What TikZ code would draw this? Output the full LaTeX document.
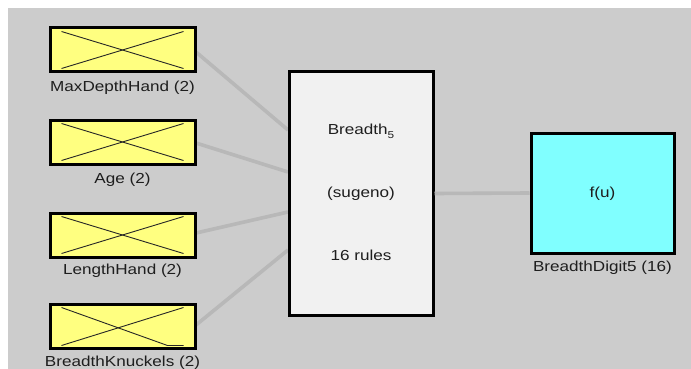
\documentclass[tikz,border=0pt]{standalone}
\usepackage{fontspec}
\setmainfont{Liberation Sans}
\usetikzlibrary{calc}
\definecolor{bg}{RGB}{204,204,204}
\definecolor{inyellow}{RGB}{255,255,128}
\definecolor{outcyan}{RGB}{128,255,255}
\definecolor{rulefill}{RGB}{241,241,241}
\definecolor{wire}{RGB}{184,184,184}
\definecolor{txt}{RGB}{30,30,30}
\newcommand{\lbl}[1]{\scalebox{1.18}[1]{#1}}
\begin{document}
\begin{tikzpicture}[x=1pt,y=-1pt,
  inbox/.style={draw=black,line width=3pt,fill=inyellow,minimum width=145pt,minimum height=44pt,inner sep=0pt},
  rulebox/.style={draw=black,line width=3pt,fill=rulefill,minimum width=144pt,minimum height=243pt,inner sep=0pt},
  outbox/.style={draw=black,line width=3pt,fill=outcyan,minimum width=143pt,minimum height=120pt,inner sep=0pt},
  txtlbl/.style={text=txt,font=\fontsize{14.5}{16}\selectfont,inner sep=0pt},
  crossln/.style={draw=black!85,line width=0.9pt},
  wireln/.style={draw=wire,line width=3.6pt}]
\fill[white] (0,0) rectangle (691,369);
\fill[bg] (8,8) rectangle (691,369);
\useasboundingbox (0,0) rectangle (691,369);
% connector ends on rules box
\coordinate (r1) at (288,130);
\coordinate (r2) at (288,172);
\coordinate (r3) at (288,212);
\coordinate (r4) at (288,250);
\coordinate (e1) at (196,52);
\coordinate (e2) at (196,143);
\coordinate (e3) at (196,233);
\coordinate (e4) at (196,325);
\draw[wireln] (e1) -- (r1);
\draw[wireln] (e2) -- (r2);
\draw[wireln] (e3) -- (r3);
\draw[wireln] (e4) -- (r4);
% rules box
\node[rulebox] (rules) at (361,193.5) {};
\node[txtlbl] (t1) at (361,131) {\lbl{Breadth\raisebox{-4pt}{\fontsize{10}{10}\selectfont 5}}};
\node[txtlbl] (t2) at (361,194) {\lbl{(sugeno)}};
\node[txtlbl] (t3) at (361,255) {\lbl{16 rules}};
% output
\node[outbox] (out) at (602.5,193) {};
\draw[wireln] (rules.east) -- (out.west);
\node[txtlbl] (fu) at (602.5,194) {\lbl{f(u)}};
\node[txtlbl] (outl) at (602.5,268) {\lbl{BreadthDigit5 (16)}};
% inputs
\node[inbox] (in1) at (122.5,50) {};
\node[inbox] (in2) at (122.5,142) {};
\node[inbox] (in3) at (122.5,235) {};
\node[inbox] (in4) at (122.5,326) {};
\node[txtlbl] (l1) at (122.5,88) {\lbl{MaxDepthHand (2)}};
\node[txtlbl] (l2) at (122.5,180) {\lbl{Age (2)}};
\node[txtlbl] (l3) at (122.5,271) {\lbl{LengthHand (2)}};
\node[txtlbl] (l4) at (122.5,363) {\lbl{BreadthKnuckels (2)}};
% crosses
\foreach \n in {in1,in2,in3}{
  \draw[crossln] ($(\n.north west)+(13,5)$) -- ($(\n.south east)+(-13,-5)$);
  \draw[crossln] ($(\n.south west)+(13,-5)$) -- ($(\n.north east)+(-13,5)$);
}
\draw[crossln] ($(in4.north west)+(13,5)$) -- ($(in4.south east)+(-29,-4)$) -- ($(in4.south east)+(-13,-4)$);
\draw[crossln] ($(in4.south west)+(13,-4)$) -- ($(in4.north east)+(-13,5)$);
\end{tikzpicture}
\end{document}
